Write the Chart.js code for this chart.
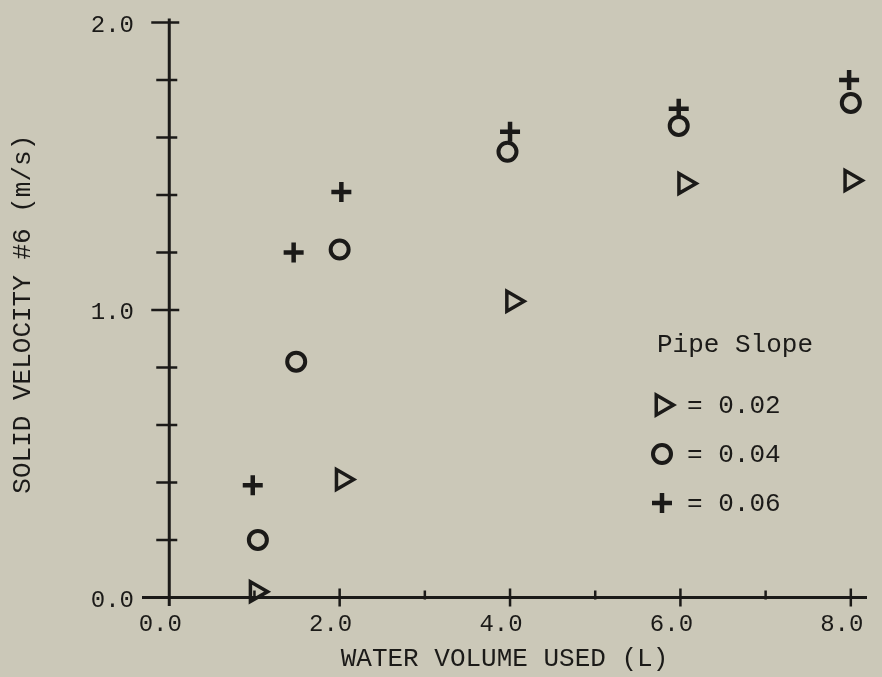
<!DOCTYPE html>
<html>
<head>
<meta charset="utf-8">
<script src="https://cdn.jsdelivr.net/npm/chart.js@4.4.1/dist/chart.umd.min.js"></script>
<style>
  html, body { margin: 0; padding: 0; background: #cbc8b8; }
  #caixa { width: 882px; height: 677px; }
</style>
</head>
<body>
<div id="caixa"><canvas id="grafico" width="882" height="677"></canvas></div>
<script>
// pipe slope 0.02 -> triangles
const volTri = [1.02, 2.03, 4.03, 6.05, 8.0];
const velTri = [0.02, 0.41, 1.03, 1.44, 1.45];
// pipe slope 0.04 -> circles
const volCirc = [1.04, 1.49, 2.0, 3.97, 5.98, 8.0];
const velCirc = [0.20, 0.82, 1.21, 1.55, 1.64, 1.72];
// pipe slope 0.06 -> plus
const volPlus = [0.98, 1.46, 2.02, 4.0, 5.98, 7.98];
const velPlus = [0.39, 1.20, 1.41, 1.62, 1.70, 1.80];

const slopes = ['0.02', '0.04', '0.06'];
const xTicks = [0, 1, 2, 3, 4, 5, 6, 7, 8];
const xLabels = ['0.0', '', '2.0', '', '4.0', '', '6.0', '', '8.0'];
const yTicks = [0, 1, 2, 3, 4, 5, 6, 7, 8, 9, 10].map(k => k / 5);
const yLabels = ['0.0', '', '', '', '', '1.0', '', '', '', '', '2.0'];

const tinta = '#1b1a18';
const fonte = '"Liberation Mono", "DejaVu Sans Mono", monospace';

const estilos = [
  { pointStyle: 'triangle', rotation: 90, radius: 11.5, borderWidth: 3.5 },
  { pointStyle: 'circle', rotation: 0, radius: 9, borderWidth: 4 },
  { pointStyle: 'cross', rotation: 0, radius: 10, borderWidth: 4.5 }
];

function pontos(xs, ys) {
  return xs.map((x, i) => ({ x: x, y: ys[i] }));
}

function serie(nome, xs, ys, est) {
  return {
    label: nome,
    data: pontos(xs, ys),
    pointStyle: est.pointStyle,
    rotation: est.rotation,
    pointRadius: est.radius,
    pointBorderWidth: est.borderWidth,
    borderColor: tinta,
    backgroundColor: 'rgba(0,0,0,0)',
    showLine: false,
    clip: false
  };
}

const fundo = {
  id: 'fundo',
  beforeDraw(chart) {
    const ctx = chart.ctx;
    ctx.save();
    ctx.fillStyle = '#cbc8b8';
    ctx.fillRect(0, 0, chart.width, chart.height);
    ctx.restore();
  }
};

// axis lines with ticks crossing them
const eixos = {
  id: 'eixos',
  beforeDatasetsDraw(chart) {
    const ctx = chart.ctx;
    const sx = chart.scales.x, sy = chart.scales.y;
    const x0 = sx.getPixelForValue(0);
    const y0 = sy.getPixelForValue(0);
    const area = chart.chartArea;
    ctx.save();
    ctx.strokeStyle = tinta;
    ctx.lineCap = 'butt';
    ctx.lineWidth = 3;
    ctx.beginPath();
    ctx.moveTo(area.left, y0);
    ctx.lineTo(area.right, y0);
    ctx.moveTo(x0, sy.getPixelForValue(2) - 4);
    ctx.lineTo(x0, area.bottom);
    ctx.stroke();

    ctx.lineWidth = 2.5;
    ctx.beginPath();
    yTicks.forEach((v, i) => {
      if (v === 0) return;
      const y = sy.getPixelForValue(v);
      const maior = yLabels[i] !== '';
      ctx.moveTo(x0 - (maior ? 18 : 13), y);
      ctx.lineTo(x0 + (maior ? 10 : 8), y);
    });
    xTicks.forEach((v, i) => {
      if (v === 0) return;
      const x = sx.getPixelForValue(v);
      const maior = xLabels[i] !== '';
      ctx.moveTo(x, y0 - (maior ? 9 : 7));
      ctx.lineTo(x, y0 + (maior ? 9 : 2));
    });
    ctx.stroke();
    ctx.restore();
  }
};

const legenda = {
  id: 'legenda',
  afterDraw(chart) {
    const ctx = chart.ctx;
    ctx.save();
    ctx.font = '26px ' + fonte;
    ctx.fillStyle = tinta;
    ctx.textBaseline = 'middle';
    ctx.fillText('Pipe Slope', 657, 345);
    estilos.forEach((est, i) => {
      const y = 405 + i * 49;
      ctx.strokeStyle = tinta;
      ctx.lineWidth = est.borderWidth;
      ctx.fillStyle = 'rgba(0,0,0,0)';
      Chart.helpers.drawPoint(ctx, est, 662, y);
      ctx.fillStyle = tinta;
      ctx.fillText('= ' + slopes[i], 687, y + 1);
    });
    ctx.restore();
  }
};

new Chart(document.getElementById('grafico'), {
  type: 'scatter',
  data: {
    datasets: [
      serie('0.02', volTri, velTri, estilos[0]),
      serie('0.04', volCirc, velCirc, estilos[1]),
      serie('0.06', volPlus, velPlus, estilos[2])
    ]
  },
  options: {
    responsive: false,
    animation: false,
    events: [],
    layout: { padding: { top: 22, right: 7, left: 0, bottom: 0 } },
    plugins: {
      legend: { display: false },
      tooltip: { enabled: false }
    },
    scales: {
      x: {
        type: 'linear',
        min: -0.32,
        max: 8.19,
        grid: { display: false, drawTicks: false },
        border: { display: false },
        afterBuildTicks(scale) { scale.ticks = xTicks.map(v => ({ value: v })); },
        afterFit(scale) { scale.height = 71; },
        ticks: {
          autoSkip: false,
          maxRotation: 0,
          padding: 4,
          labelOffset: -9,
          color: tinta,
          font: { family: fonte, size: 24 },
          callback: (v, i) => xLabels[i]
        },
        title: {
          display: true,
          text: 'WATER VOLUME USED (L)',
          color: tinta,
          font: { family: fonte, size: 26 },
          padding: { top: 0, bottom: 2 }
        }
      },
      y: {
        type: 'linear',
        min: -0.03,
        max: 2.0,
        grid: { display: false, drawTicks: false },
        border: { display: false },
        afterBuildTicks(scale) { scale.ticks = yTicks.map(v => ({ value: v })); },
        afterFit(scale) { scale.width = 142; },
        ticks: {
          autoSkip: false,
          padding: 8,
          labelOffset: 3,
          color: tinta,
          font: { family: fonte, size: 24 },
          callback: (v, i) => yLabels[i]
        },
        title: {
          display: true,
          text: 'SOLID VELOCITY #6 (m/s)',
          color: tinta,
          font: { family: fonte, size: 26 },
          padding: { top: 8, bottom: 0 }
        }
      }
    }
  },
  plugins: [fundo, eixos, legenda]
});
</script>
</body>
</html>
